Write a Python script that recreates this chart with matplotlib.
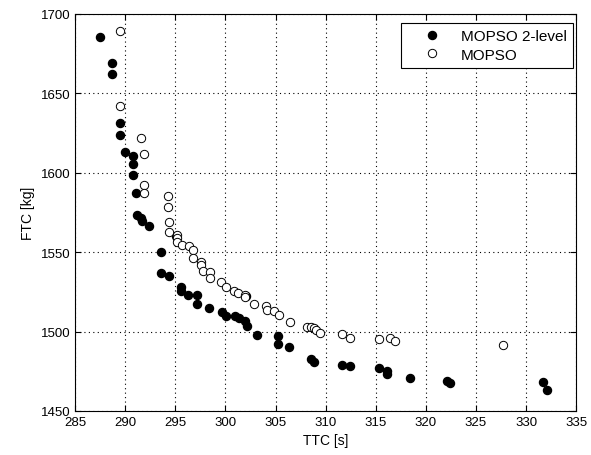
import matplotlib.pyplot as plt

plt.rcParams['font.family'] = ['Liberation Sans', 'DejaVu Sans']

# MOPSO 2-level front
ttc_2lvl = [287.5, 288.7, 288.7, 289.5, 289.5, 290.0, 290.8, 290.8, 290.8, 291.1,
            291.2, 291.6, 291.7, 292.4, 293.6, 293.6, 294.4, 295.1, 295.6, 295.6,
            296.3, 297.2, 297.2, 298.4, 299.7, 300.1, 301.0, 301.4, 302.0, 302.1,
            302.2, 303.2, 305.2, 305.2, 306.3, 308.5, 308.8, 311.6, 312.4, 315.3,
            316.1, 316.1, 318.4, 322.1, 322.4, 331.7, 332.1]
ftc_2lvl = [1685.5, 1669, 1662, 1631, 1624, 1613, 1610.6, 1605.5, 1598.6, 1587,
            1573.4, 1571.5, 1569.6, 1566.5, 1550, 1537, 1535, 1560, 1528, 1525.6,
            1523, 1523, 1517.4, 1515, 1512.3, 1510, 1510, 1508.6, 1506.7, 1522.4,
            1503.5, 1497.9, 1497.2, 1492.2, 1490.3, 1482.6, 1480.8, 1479, 1478.3, 1477,
            1475.2, 1473.3, 1470.8, 1468.9, 1467.6, 1468.3, 1463.2]

# plain MOPSO front
ttc_mopso = [289.5, 289.5, 291.6, 291.9, 291.9, 291.9, 294.3, 294.3, 294.4, 294.4,
             295.2, 295.2, 295.2, 295.7, 296.4, 296.8, 296.8, 297.6, 297.6, 297.8,
             298.5, 298.5, 299.6, 300.1, 300.9, 301.3, 302.0, 302.0, 302.9, 304.0,
             304.1, 304.8, 305.3, 306.4, 308.1, 308.5, 308.8, 309.0, 309.4, 311.6,
             312.4, 315.3, 316.4, 316.9, 327.7]
ftc_mopso = [1689, 1642, 1622, 1612, 1592, 1587, 1585.4, 1578.5, 1569, 1562.7,
             1560.8, 1559, 1556.5, 1554.5, 1554, 1551.5, 1546, 1544, 1541.9, 1538,
             1537.5, 1533.8, 1531, 1528, 1525.6, 1524.3, 1523, 1521.5, 1517.4, 1516,
             1513.6, 1513, 1510.5, 1506, 1503, 1503, 1502.5, 1501, 1499, 1498.5,
             1496, 1495.3, 1496, 1494, 1491.6]

fig = plt.figure(figsize=(5.91, 4.56), dpi=100)
ax = fig.add_axes([0.127, 0.0965, 0.848, 0.871])

ax.plot(ttc_2lvl, ftc_2lvl, 'o', color='black', markersize=5.8, label='MOPSO 2-level')
ax.plot(ttc_mopso, ftc_mopso, 'o', markerfacecolor='white', markeredgecolor='black',
        markeredgewidth=0.7, markersize=6, label='MOPSO')

ax.set_xlim(285, 335)
ax.set_ylim(1450, 1700)
ax.set_xticks(range(285, 336, 5))
ax.set_yticks(range(1450, 1701, 50))
ax.grid(True, color='black', linestyle=(0, (1, 3)), linewidth=0.8)
ax.tick_params(direction='in', labelsize=9.5, length=4, top=True, right=True)
for s in ax.spines.values():
    s.set_linewidth(0.8)

ax.set_xlabel('TTC [s]', fontsize=10, labelpad=4)
ax.set_ylabel('FTC [kg]', fontsize=10, labelpad=4)

leg = ax.legend(loc='upper right', bbox_to_anchor=(0.994, 0.977), borderaxespad=0,
                fontsize=11, fancybox=False, framealpha=1, edgecolor='black',
                borderpad=0.4, handlelength=3.3, handletextpad=0.25, labelspacing=0.3)
leg.get_frame().set_linewidth(0.8)

fig.savefig('out.png', dpi=100)
